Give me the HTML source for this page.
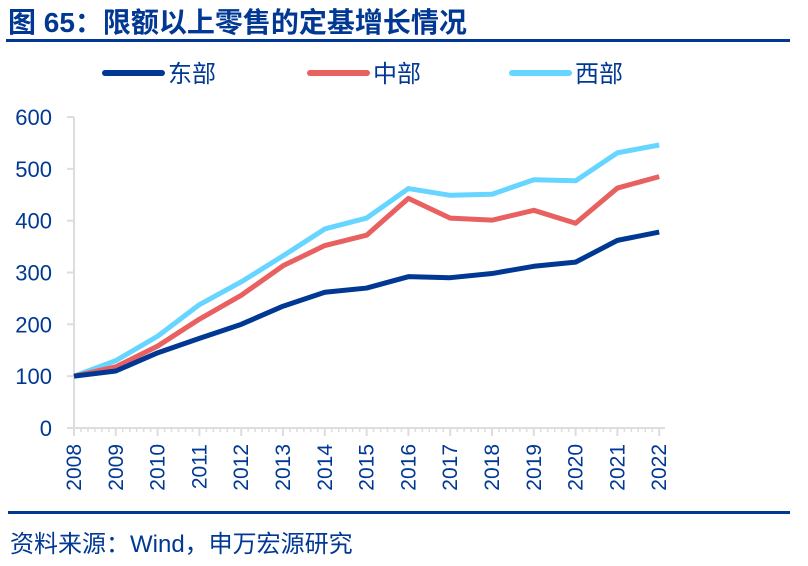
<!DOCTYPE html>
<html><head><meta charset="utf-8"><style>
body{margin:0;width:808px;height:566px;background:#fff;overflow:hidden;font-family:"Liberation Sans","Noto Sans CJK SC",sans-serif;}
</style></head><body>
<svg width="808" height="566" style="position:absolute;left:0;top:0">
<text x="8" y="32" font-size="28" font-weight="bold" fill="#003893" font-family="Liberation Sans, Noto Sans CJK SC, sans-serif">图 65：限额以上零售的定基增长情况</text>
<rect x="6" y="39" width="784" height="3" fill="#003893"/>
<g id="legend"></g>
<g id="axes"></g>
<g id="series"></g>
<rect x="8" y="511" width="782" height="3" fill="#003893"/>
<text x="10" y="552" font-size="24" fill="#003893" font-family="Liberation Sans, Noto Sans CJK SC, sans-serif">资料来源：Wind，申万宏源研究</text>
</svg>
<script>
const years=["2008","2009","2010","2011","2012","2013","2014","2015","2016","2017","2018","2019","2020","2021","2022"];
const east=[100,110,145,173,200,235,262,270,292,290,298,312,320,362,378];
const central=[100,118,158,210,256,313,352,372,443,405,401,420,395,463,485];
const west=[100,130,177,238,282,332,384,405,462,449,451,479,477,531,546];
const yTicks=[0,100,200,300,400,500,600];
const seriesNames=["东部","中部","西部"];
const colors=["#003893","#e8605f","#66d5ff"];
const NS="http://www.w3.org/2000/svg";
const x=i=>74+i*41.8;
const y=v=>428-v*0.5183;
function mk(tag,attrs,parent){const e=document.createElementNS(NS,tag);for(const k in attrs)e.setAttribute(k,attrs[k]);parent.appendChild(e);return e;}
const axes=document.getElementById('axes');
let yl=mk('line',{x1:74,y1:y(600),x2:74,y2:428,stroke:'#ddd','stroke-width':2},axes);


yTicks.forEach(t=>{
 let tk=mk('line',{x1:67,x2:74,y1:y(t),y2:y(t),stroke:'#ddd','stroke-width':2},axes);
 
 
 let tx=mk('text',{x:52,y:y(t)+8,'font-size':22,fill:'#003893','text-anchor':'end'},axes);
 tx.textContent=t;
 
 
});
let xl=mk('line',{x1:67,y1:428,x2:665,y2:428,stroke:'#ddd','stroke-width':2},axes);


years.forEach((yr,i)=>{
 let tk=mk('line',{x1:x(i),x2:x(i),y1:428,y2:436,stroke:'#ddd','stroke-width':2},axes);
 
 
 if(i<years.length-1){for(let m=1;m<6;m++){let mt=mk('line',{x1:x(i)+m*41.8/6,x2:x(i)+m*41.8/6,y1:428,y2:432,stroke:'#ddd','stroke-width':1.5},axes);
 
 }}
 let tx=mk('text',{x:0,y:0,'font-size':21,fill:'#003893','text-anchor':'end',transform:`translate(${x(i)+7},444) rotate(-90)`},axes);
 tx.textContent=yr;
 
 
});
const ser=document.getElementById('series');
[east,central,west].reverse().forEach((d,ri)=>{
 const k=2-ri;
 let p=mk('polyline',{points:d.map((v,i)=>x(i)+','+y(v)).join(' '),fill:'none',stroke:colors[k],'stroke-width':5,'stroke-linejoin':'round'},ser);
 
 
});
const lg=document.getElementById('legend');
const lx=[105,310,512];
seriesNames.forEach((n,k)=>{
 let l=mk('line',{x1:lx[k],x2:lx[k]+57,y1:73,y2:73,stroke:colors[k],'stroke-width':6,'stroke-linecap':'round'},lg);
 
 
 let t=mk('text',{x:lx[k]+63,y:82,'font-size':24,fill:'#003893'},lg);
 t.textContent=n;
 
 
});
</script>
</body></html>
